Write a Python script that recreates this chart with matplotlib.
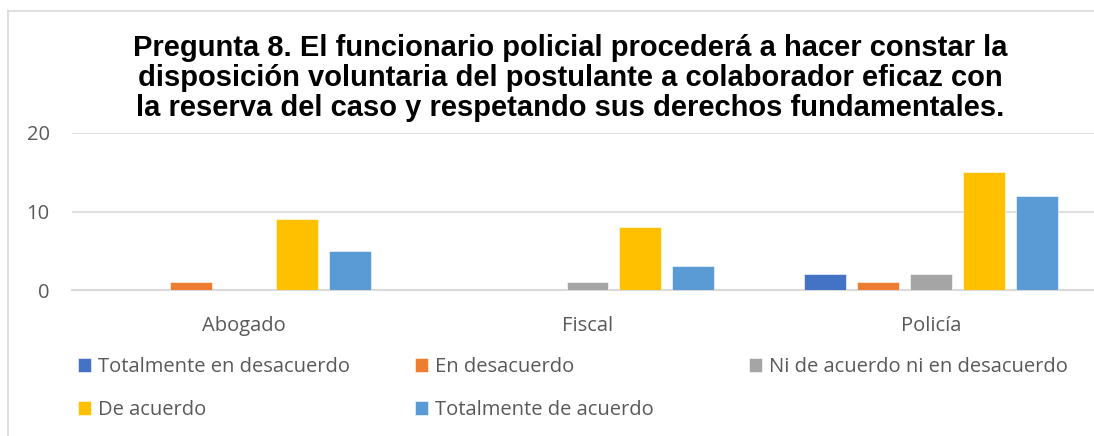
import matplotlib
matplotlib.use("Agg")
import matplotlib.pyplot as plt
import numpy as np
from matplotlib.lines import Line2D

categorias = ["Abogado", "Fiscal", "Policía"]
series = ["Totalmente en desacuerdo", "En desacuerdo", "Ni de acuerdo ni en desacuerdo",
          "De acuerdo", "Totalmente de acuerdo"]
tot_desacuerdo = [0, 0, 2]
en_desacuerdo = [1, 0, 1]
ni_ni = [0, 1, 2]
de_acuerdo = [9, 8, 15]
tot_acuerdo = [5, 3, 12]
colores = ["#4472C4", "#ED7D31", "#A5A5A5", "#FFC000", "#5B9BD5"]

titulo = ("Pregunta 8. El funcionario policial procederá a hacer constar la\n"
          "disposición voluntaria del postulante a colaborador eficaz con\n"
          "la reserva del caso y respetando sus derechos fundamentales.")

plt.rcParams['font.family'] = ['Open Sans', 'DejaVu Sans']
gris = "#595959"

fig = plt.figure(figsize=(10.94, 4.36), dpi=100)
W, H = 1094, 436

# marco del grafico (solo arriba e izquierda se ven)
fig.lines.append(Line2D([8 / W, 1], [1 - 11 / H, 1 - 11 / H], transform=fig.transFigure,
                        color="#D9D9D9", linewidth=1.2))
fig.lines.append(Line2D([8 / W, 8 / W], [0, 1 - 11 / H], transform=fig.transFigure,
                        color="#D9D9D9", linewidth=1.2))

ax = fig.add_axes([72 / W, 1 - 290 / H, (1103 - 72) / W, (290 - 133) / H])

valores = [tot_desacuerdo, en_desacuerdo, ni_ni, de_acuerdo, tot_acuerdo]
x = np.arange(len(categorias))
paso = 0.154
ancho = 0.122
for i, (nombre, v) in enumerate(zip(series, valores)):
    ax.bar(x + (i - 2) * paso, v, ancho, color=colores[i], label=nombre, zorder=3,
           edgecolor="white", linewidth=0.4)

ax.set_xlim(-0.5, 2.5)
ax.set_ylim(0, 20)
ax.set_yticks([0, 10, 20])
ax.set_xticks(x)
ax.set_xticklabels(categorias)
ax.grid(axis="y", color="#D9D9D9", linewidth=1.2, zorder=0)
for s in ["top", "right", "left"]:
    ax.spines[s].set_visible(False)
ax.spines["bottom"].set_color("#D9D9D9")
ax.spines["bottom"].set_linewidth(1.5)
ax.tick_params(axis="both", length=0, labelsize=14.5, labelcolor=gris)
ax.tick_params(axis="x", pad=19)
ax.tick_params(axis="y", pad=16)

fig.text(570 / W, 1 - 78 / H, titulo, ha="center", va="center", fontsize=21,
         fontweight="bold", family="Liberation Sans", linespacing=1.07)

# leyenda: tres columnas de ancho fijo, como en Excel
h, l = ax.get_legend_handles_labels()
columnas = [[0, 3], [1, 4], [2]]
xs_col = [70, 407, 741]
for col, xc in zip(columnas, xs_col):
    leg = fig.legend([h[k] for k in col], [l[k] for k in col], loc="upper left",
                     bbox_to_anchor=(xc / W, 1 - 349 / H), frameon=False, fontsize=14.5,
                     labelcolor=gris, handlelength=0.65, handleheight=0.65,
                     handletextpad=0.35, labelspacing=1.15, borderaxespad=0)

fig.savefig("out.png", dpi=100)
